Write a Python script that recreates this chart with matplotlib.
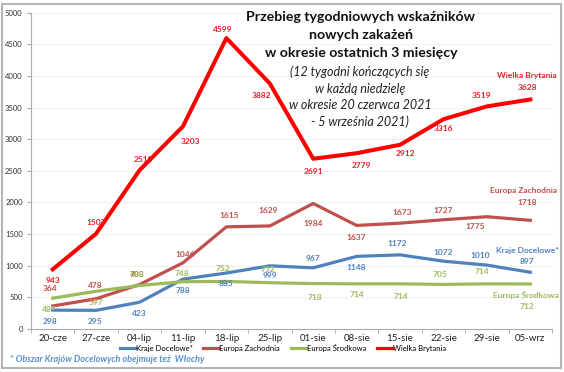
import matplotlib
matplotlib.use("Agg")
import matplotlib.pyplot as plt
from matplotlib.lines import Line2D
from matplotlib.patches import Rectangle

plt.rcParams['font.family'] = ['Lato', 'DejaVu Sans']

categories = ["20-cze", "27-cze", "04-lip", "11-lip", "18-lip", "25-lip",
              "01-sie", "08-sie", "15-sie", "22-sie", "29-sie", "05-wrz"]
kraje_docelowe = [298, 295, 423, 788, 885, 999, 967, 1148, 1172, 1072, 1010, 897]
europa_zachodnia = [364, 478, 703, 1046, 1615, 1629, 1984, 1637, 1673, 1727, 1775, 1718]
europa_srodkowa = [487, 597, 688, 748, 752, 732, 718, 714, 714, 705, 714, 712]
wielka_brytania = [943, 1507, 2510, 3203, 4599, 3882, 2691, 2779, 2912, 3316, 3519, 3628]
series_names = ["Kraje Docelowe*", "Europa Zachodnia", "Europa Środkowa", "Wielka Brytania"]

colors = ["#4f81bd", "#c0504d", "#9bbb59", "#ff0000"]
label_colors = ["#4f81bd", "#c0504d", "#9bbb59", "#e8202a"]
widths = [2.3, 2.3, 2.3, 2.9]

# label offsets in pixels (dx, dy)
off_kd = [(-3, -11), (-1, -11), (0, -11), (0, -11), (0, -10), (0, -10),
          (0, 9), (0, -11), (-3, 11), (0, 9), (-7, 10), (-3, 11)]
off_ez = [(-3, 17), (-1, 13), (-3, 10.5), (2, 8), (3, 11), (-2, 15),
          (0, -20), (0, -12), (2, 11), (0, 9), (-12, -10), (-3, 18)]
off_es = [(-3, -11), (0, -11), (-3, 10.5), (-1, 8), (-3, 13), (-2, 13),
          (2, -14), (0, -11), (1, -13), (-4, 10), (-5, 12), (-3, -23)]
off_wb = [(0, -11), (0, 11), (4, 11), (7, -15.5), (-4, 9), (-8, -12),
          (0, -13), (5, -12), (5, -9), (0, -9), (-5, 11), (-3, 11.5)]

fig = plt.figure(figsize=(5.64, 3.72), dpi=100)
ax = fig.add_axes([31/564, 1-329/372, (552-31)/564, (329-12.7)/372])

x = list(range(len(categories)))
all_series = [kraje_docelowe, europa_zachodnia, europa_srodkowa, wielka_brytania]
all_offs = [off_kd, off_ez, off_es, off_wb]

for vals, c, lw, name in zip(all_series, colors, widths, series_names):
    ax.plot(x, vals, color=c, lw=lw, solid_joinstyle='round', zorder=3, label=name)

for vals, offs, lc in zip(all_series, all_offs, label_colors):
    for xi, v, (dx, dy) in zip(x, vals, offs):
        ax.annotate(str(v), (xi, v), xytext=(dx, dy), textcoords='offset pixels',
                    ha='center', va='center', fontsize=6, fontweight='bold',
                    color=lc, zorder=5)

# series name labels at end
name_pos = [(11, 897, -3, 22), (11, 1718, -7, 30), (11, 712, -4, -11), (11, 3628, -3, 23.5)]
for (xi, v, dx, dy), name, lc in zip(name_pos, series_names, label_colors):
    ax.annotate(name, (xi, v), xytext=(dx, dy), textcoords='offset pixels',
                ha='center', va='center', fontsize=6, fontweight='bold',
                color=lc, zorder=5)

ax.set_xlim(-0.5, 11.5)
ax.set_ylim(0, 5000)
ax.set_yticks(range(0, 5001, 500))
ax.set_yticklabels([str(t) for t in range(0, 5001, 500)], fontsize=5.5, color='#333333')
ax.set_xticks(x)
ax.set_xticklabels(categories, fontsize=7, color='#222222')
ax.set_xticks([i - 0.5 for i in range(13)], minor=True)
ax.tick_params(axis='x', which='major', length=0, pad=3.5)
ax.tick_params(axis='x', which='minor', length=3, color='#aaaaaa')
ax.tick_params(axis='y', length=3, color='#aaaaaa', pad=3)
ax.grid(axis='y', color='#eeeeee', lw=0.6, zorder=0)
for s in ['top', 'right']:
    ax.spines[s].set_visible(False)
ax.spines['left'].set_color('#aaaaaa')
ax.spines['bottom'].set_color('#aaaaaa')
ax.spines['left'].set_linewidth(0.8)
ax.spines['bottom'].set_linewidth(0.8)

# title and subtitle
for line, yy in zip(["Przebieg tygodniowych wskaźników", "nowych zakażeń",
                     "w okresie ostatnich 3 miesięcy"], [17, 35, 53]):
    fig.text(361/564, 1-yy/372, line, ha='center', va='center',
             fontsize=10.2, fontweight='bold', color='#111111')
sub = ["(12 tygodni kończących się", "w każdą niedzielę",
       "w okresie 20 czerwca 2021", "- 5 września 2021)"]
for line, yy in zip(sub, [72, 89, 105, 122]):
    fig.text(360/564, 1-yy/372, line, ha='center', va='center',
             fontsize=9, fontstyle='italic', color='#222222')

# legend
handles = [Line2D([0], [0], color=c, lw=2.3) for c in colors]
fig.legend(handles, series_names, loc='center', bbox_to_anchor=(283/564, 1-348/372),
           ncol=4, frameon=False, fontsize=5.5, handlelength=2.0, handletextpad=0.1,
           columnspacing=1.4, borderpad=0)

fig.text(10/564, 1-360/372, "* Obszar Krajów Docelowych obejmuje też  Włochy",
         ha='left', va='center', fontsize=6.5, fontstyle='italic', fontweight='bold',
         color='#5b8fd0')

fig.patches.append(Rectangle((2/564, 4/372), 559/564, 364/372, transform=fig.transFigure,
                             fill=False, edgecolor='#b5b5b5', lw=1.5))

fig.savefig("out.png", dpi=100)
